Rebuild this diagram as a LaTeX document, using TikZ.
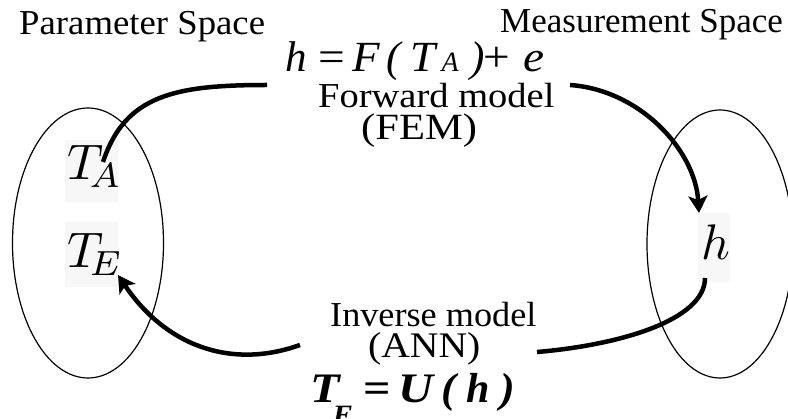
\documentclass[tikz,border=0pt]{standalone}
\usepackage{fontspec}
\setmainfont{Liberation Serif}
\usetikzlibrary{arrows.meta,shapes.geometric}
% place a glyph at a horizontal offset, optionally stretched
\newcommand\gl[3]{\makebox[0pt][l]{\hspace*{#1pt}\scalebox{#2}[1]{#3}}}
\begin{document}
\begin{tikzpicture}[x=1pt,y=-1pt,
  lbl/.style={inner sep=0pt, anchor=base west},
  space/.style={draw, ellipse, line width=1.2pt, inner sep=0pt},
  conn/.style={line width=4.5pt, -{Stealth[length=17pt,width=19pt,inset=4pt]}},
  plain/.style={line width=4.5pt},
  bgbox/.style={fill=black!3}]
\useasboundingbox (0,0) rectangle (788,419);
\clip (0,0) rectangle (788,419);
% faint backgrounds of the pasted symbols
\fill[bgbox] (65,140) rectangle (118,202);
\fill[bgbox] (65,222) rectangle (118,287);
\fill[bgbox] (698,213) rectangle (730,282);
% spaces
\node[space, minimum width=151pt, minimum height=270pt] (pspace) at (88,243) {};
\node[space, minimum width=146pt, minimum height=268pt] (mspace) at (720,244) {};
% titles
\node[lbl, font=\fontsize{35}{35}\selectfont] (ps) at (19,35) {\scalebox{1.05}[1]{Parameter Space}};
\node[lbl, font=\fontsize{35}{35}\selectfont] (ms) at (500,33) {Measurement Space};
% symbols
\node[lbl] (ta) at (67,180) {\scalebox{5.0}{$T_{\!A}$}};
\node[lbl] (te) at (67,268) {\scalebox{5.0}{$T_{\!E}$}};
\node[lbl] (hm) at (701,260) {\scalebox{5.0}{$h$}};
% forward model
\node[lbl, font=\fontsize{43}{43}\selectfont\itshape] (feq) at (285,72)
  {\gl{0}{1}{h}\gl{33}{1.1}{\upshape =}\gl{67}{1.05}{F}\gl{101}{1}{(}\gl{125}{1.05}{T}%
   \gl{156}{1}{\fontsize{28}{28}\selectfont A}\gl{185}{1}{)}\gl{198}{1.1}{\upshape +}\gl{238}{1.1}{e}};
\node[lbl, font=\fontsize{35}{35}\selectfont] (fwd) at (318,108) {\scalebox{1.1}[1]{Forward model}};
\node[lbl, font=\fontsize{37}{37}\selectfont] (fem) at (361,140) {\scalebox{1.15}[1]{(FEM)}};
% inverse model
\node[lbl, font=\fontsize{35}{35}\selectfont] (inv) at (330,327) {\scalebox{1.035}[1]{Inverse model}};
\node[lbl, font=\fontsize{36}{36}\selectfont] (ann) at (368,358) {\scalebox{1.1}[1]{(ANN)}};
\node[lbl, font=\fontsize{42}{42}\selectfont\bfseries\itshape] (ieq) at (308,403)
  {\gl{2}{1.15}{T}\gl{24}{1.1}{\raisebox{-22pt}{\fontsize{28}{28}\selectfont E}}\gl{55}{1.15}{\upshape =}%
   \gl{90}{1.15}{U}\gl{133}{1.05}{(}\gl{158}{1}{h}\gl{192}{1.05}{)}};
% connector end points
\coordinate (fa0) at (103,162);
\coordinate (fa1) at (267,85);
\coordinate (fa2) at (570,85);
\coordinate (fa3) at (699,213);
\coordinate (ia0) at (705,278);
\coordinate (ia1) at (537,352);
\coordinate (ia2) at (300,345);
\coordinate (ia3) at (118,275);
\draw[plain] (fa0) .. controls (125,95) and (175,85) .. (fa1);
\draw[conn] (fa2) .. controls (640,90) and (695,150) .. (fa3);
\draw[plain] (ia0) .. controls (705,320) and (620,345) .. (ia1);
\draw[conn] (ia2) .. controls (230,370) and (165,345) .. (ia3);
\end{tikzpicture}
\end{document}
